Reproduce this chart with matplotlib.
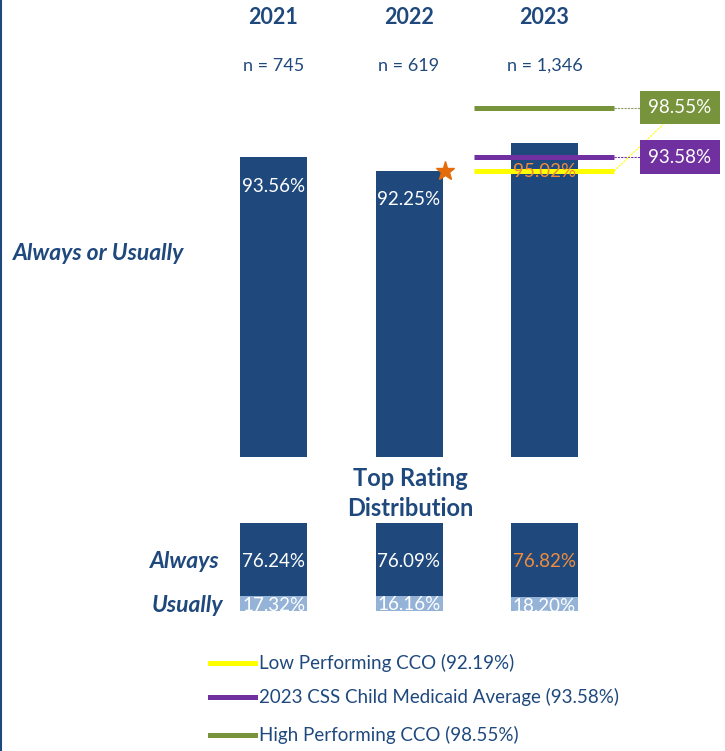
import matplotlib.pyplot as plt
from matplotlib.lines import Line2D

plt.rcParams['font.family'] = ['Lato', 'DejaVu Sans']

years = ["2021", "2022", "2023"]
n_labels = ["n = 745", "n = 619", "n = 1,346"]
always_or_usually = [93.56, 92.25, 95.02]
always = [76.24, 76.09, 76.82]
usually = [17.32, 16.16, 18.20]
low_cco = 92.19
avg_2023 = 93.58
high_cco = 98.55

navy = "#1F497D"
light = "#95B3D7"
green = "#77933C"
purple = "#7030A0"
yellow = "#FFFF00"
orange = "#E46C0A"

W, H = 725, 751
fig = plt.figure(figsize=(W / 100, H / 100), dpi=100)


def fx(x):
    return x / W


def fy(y):
    return 1 - y / H


# pixel geometry of the bar slots
x0, step = 273.5, 135.5
xl = (-x0 / step, (W - x0) / step)
bw = 67 / step

# main chart (truncated scale)
ax = fig.add_axes([0, fy(457), 1, 457 / H])
ax.set_xlim(*xl)
base = 63.6
ax.set_ylim(base, base + 457 / 10.0)
ax.axis("off")
xs = range(len(years))
ax.bar(xs, always_or_usually, width=bw, color=navy, zorder=2)
for i, v in enumerate(always_or_usually):
    c = "#F08C3C" if i == 2 else "white"
    ax.annotate(f"{v:.2f}%", (i, v), xytext=(0, -21), textcoords="offset points",
                ha="center", va="center", color=c, fontsize=13.5, zorder=5)

# star marker on 2022
ax.plot(1 + bw / 2 + 0.02, always_or_usually[1], marker="*", color=orange,
        markersize=14, zorder=6, clip_on=False)

# benchmark lines
lx0, lx1 = (474 - x0) / step, (614 - x0) / step
lab_x = (641 - x0) / step
for val, col in [(high_cco, green), (avg_2023, purple), (low_cco, yellow)]:
    ax.plot([lx0, lx1], [val, val], color=col, lw=3.6, solid_capstyle="butt", zorder=4)
ax.plot([lx1, lab_x], [high_cco, high_cco], color="#8a9a6a", lw=0.8, ls=(0, (2, 1)), zorder=4)
ax.plot([lx1, lab_x], [avg_2023, avg_2023], color=purple, lw=0.8, ls=(0, (2, 1)), zorder=4)
ax.plot([lx1, (663 - x0) / step], [low_cco, high_cco - 1.7], color=yellow, lw=0.8,
        ls=(0, (2, 1)), zorder=4)
for val, col in [(high_cco, green), (avg_2023, purple)]:
    ax.text((680 - x0) / step, val, f"{val:.2f}%", ha="center", va="center",
            color="white", fontsize=13.5, zorder=7,
            bbox=dict(boxstyle="square,pad=0.44", fc=col, ec="none"))

# distribution chart
ax2 = fig.add_axes([0, fy(611), 1, 88 / H])
ax2.set_xlim(*xl)
ax2.set_ylim(88 / 0.9575, 0)
ax2.axis("off")
ax2.bar(xs, always, width=bw, color=navy)
ax2.bar(xs, usually, width=bw, bottom=always, color=light)
for i in xs:
    c = "#F08C3C" if i == 2 else "white"
    ax2.text(i, always[i] / 2 + 2, f"{always[i]:.2f}%", ha="center", va="center",
             color=c, fontsize=13.5)
    ax2.text(i, always[i] + usually[i] / 2 + 1, f"{usually[i]:.2f}%", ha="center",
             va="center", color="white", fontsize=13.5, clip_on=True)

# headers
for i, (yr, n) in enumerate(zip(years, n_labels)):
    fig.text(fx(x0 + i * step), fy(17), yr, ha="center", va="center",
             fontsize=15.5, fontweight="bold", color=navy)
    fig.text(fx(x0 + i * step), fy(66), n, ha="center", va="center",
             fontsize=13, color=navy)

fig.text(fx(13), fy(254), "Always or Usually", ha="left", va="center", fontsize=16.5,
         fontweight="bold", fontstyle="italic", color=navy)
fig.text(fx(410), fy(478), "Top Rating", ha="center", va="center", fontsize=17,
         fontweight="bold", color=navy)
fig.text(fx(410), fy(508), "Distribution", ha="center", va="center", fontsize=17,
         fontweight="bold", color=navy)
fig.text(fx(220), fy(562), "Always", ha="right", va="center", fontsize=16.5,
         fontweight="bold", fontstyle="italic", color=navy)
fig.text(fx(223), fy(606), "Usually", ha="right", va="center", fontsize=16.5,
         fontweight="bold", fontstyle="italic", color=navy)

# legend
legend_items = [(yellow, f"Low Performing CCO ({low_cco:.2f}%)"),
                (purple, f"2023 CSS Child Medicaid Average ({avg_2023:.2f}%)"),
                (green, f"High Performing CCO ({high_cco:.2f}%)")]
for (col, lab), yy in zip(legend_items, [663, 697, 735]):
    fig.add_artist(Line2D([fx(210), fx(255)], [fy(yy), fy(yy)], color=col, lw=3.6))
    fig.text(fx(259), fy(yy), lab, ha="left", va="center", fontsize=13.5, color=navy)

# left border
fig.add_artist(Line2D([fx(1), fx(1)], [0, 1], color=navy, lw=1.5))

fig.savefig("out.png", dpi=100)
